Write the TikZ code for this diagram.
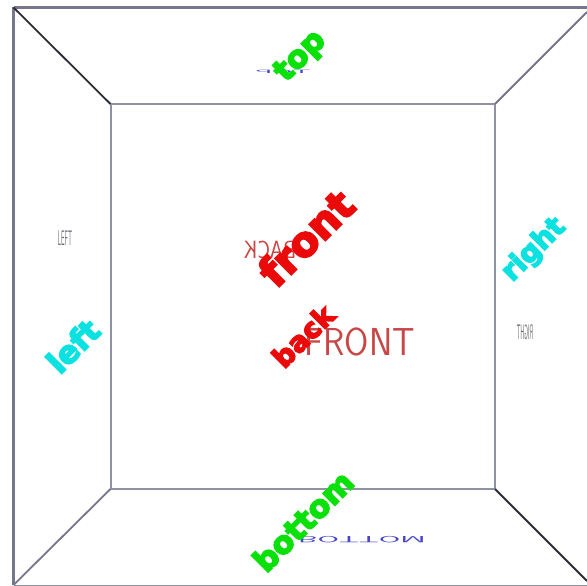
\documentclass[tikz,border=0pt]{standalone}
\usepackage{fontspec}
\newfontfamily\lblfont{DejaVu Sans Bold}[FakeBold=5]
\definecolor{framegray}{RGB}{118,118,140}
\definecolor{innergray}{RGB}{145,145,165}
\definecolor{darkedge}{RGB}{45,45,55}
\definecolor{lblgreen}{RGB}{10,225,10}
\definecolor{lblcyan}{RGB}{10,225,225}
\definecolor{lblred}{RGB}{235,10,10}
\definecolor{thinred}{RGB}{200,70,70}
\definecolor{thinblue}{RGB}{70,70,200}
\tikzset{
  lbl/.style={rotate=45, inner sep=0pt, font=\lblfont\fontsize{#1}{#1}\selectfont},
  wall/.style={inner sep=0pt, font=\sffamily\fontsize{#1}{#1}\selectfont},
  innerline/.style={draw=innergray, line width=2pt},
  outerline/.style={draw=framegray, line width=2.2pt},
}
\begin{document}
\begin{tikzpicture}[x=1pt,y=-1pt]
\useasboundingbox (0,0) rectangle (587,586);
\fill[white] (0,0) rectangle (587,586);
% corners
\coordinate (oTL) at (13.5,7.5);
\coordinate (oTR) at (590,7.5);
\coordinate (oBL) at (13.5,585);
\coordinate (oBR) at (590,585);
\coordinate (rTR) at (587,12);
\coordinate (rBR) at (587,581);
\coordinate (iTL) at (110.5,104);
\coordinate (iTR) at (495,104);
\coordinate (iBL) at (110.5,489);
\coordinate (iBR) at (495,489);
% outer frame
\draw[draw=innergray, line width=1pt] (oBL) -- (oBR);
\draw[outerline] (oBL) -- (oTL);
\draw[draw=framegray, line width=3pt] (oTL) -- (oTR);
% inner square
\draw[innerline] (iTL) -- (iTR) -- (iBR) -- (iBL) -- cycle;
% diagonals
\draw[draw=darkedge, line width=1.8pt] (oTL) -- (iTL);
\draw[draw=framegray, line width=1.8pt] (rTR) -- (iTR);
\draw[draw=framegray, line width=1.8pt] (oBL) -- (iBL);
\draw[draw=darkedge, line width=1.8pt] (iBR) -- (rBR);
% wall texts
\node[wall=39, text=thinred, xscale=0.9] (FRONTw) at (360,342) {FRONT};
\node[wall=25, text=thinred, xscale=-0.85] (BACKw) at (270,250) {BACK};
\node[wall=20, text=thinblue, xscale=1.55, yscale=-0.45] (BOTTOMw) at (362,540) {BOTTOM};
\node[wall=16, text=thinblue, xscale=1.8, yscale=-0.3, rotate=180] (TOPw) at (283,72) {TOP};
\node[wall=21, text=darkedge!70, xscale=0.3] (LEFTw) at (65,238) {LEFT};
\node[wall=21, text=darkedge!70, xscale=-0.28] (RIGHTw) at (525,332) {RIGHT};
% labels
\node[lbl=31, text=lblgreen] (top) at (301,57) {top};
\node[lbl=31, text=lblgreen] (bottom) at (303,521) {bottom};
\node[lbl=31, text=lblcyan] (left) at (73,346) {left};
\node[lbl=28, text=lblcyan] (right) at (534,250) {right};
\node[lbl=41, text=lblred] (front) at (306,238) {front};
\node[lbl=28, text=lblred] (back) at (303,336) {back};
\end{tikzpicture}
\end{document}
